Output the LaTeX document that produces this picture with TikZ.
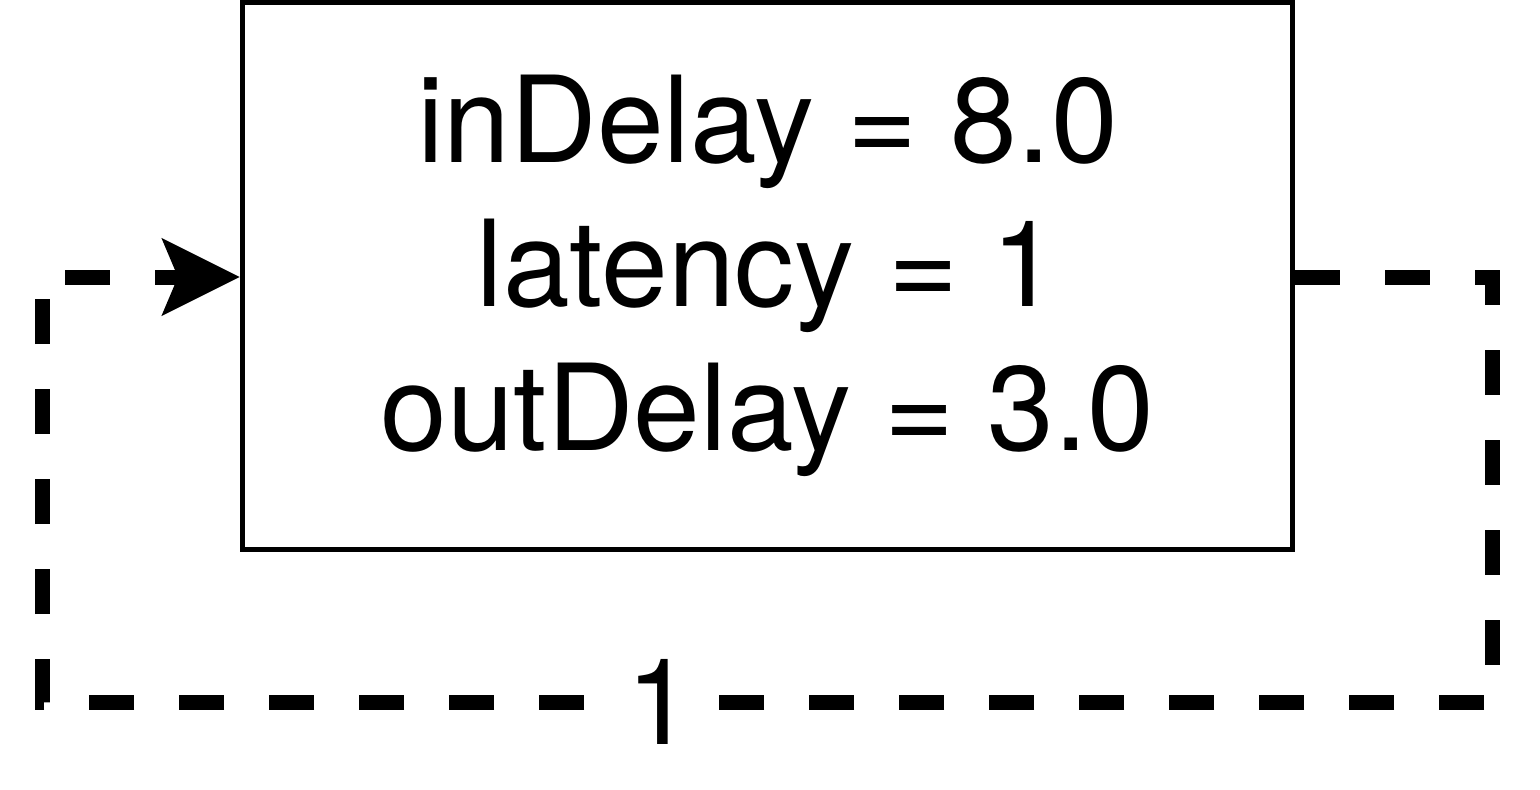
\documentclass[tikz,border=0pt]{standalone}
\usepackage{fontspec}
\setmainfont{TeX Gyre Heros}
\usetikzlibrary{arrows.meta}
\begin{document}
\begin{tikzpicture}[x=1pt,y=-1pt]
\useasboundingbox (0,0) rectangle (1540,790);
\tikzset{
  blockbox/.style={draw, line width=5pt, minimum width=1050pt, minimum height=547pt,
    inner sep=0pt, align=center, font=\fontsize{120}{144}\selectfont},
  flow/.style={line width=15pt, dash pattern=on 45pt off 45pt, line cap=butt},
  flowlabel/.style={fill=white, inner sep=0pt, font=\fontsize{120}{144}\selectfont}
}
\node[blockbox] (blk) at (767.5,276) {inDelay = 8.0\\latency = 1\\outDelay = 3.0};
\coordinate (c1) at (1492,277);
\coordinate (c2) at (1492,702);
\coordinate (c3) at (42,702);
\coordinate (c4) at (42,277);
\draw[flow, -{Stealth[length=77pt,width=75pt,inset=15pt]}]
  (blk.east |- c1) -- (c1) -- (c2) -- node[flowlabel, pos=0.574] (lbl) {1} (c3) -- (c4) -- (blk.west |- c4);
\end{tikzpicture}
\end{document}
